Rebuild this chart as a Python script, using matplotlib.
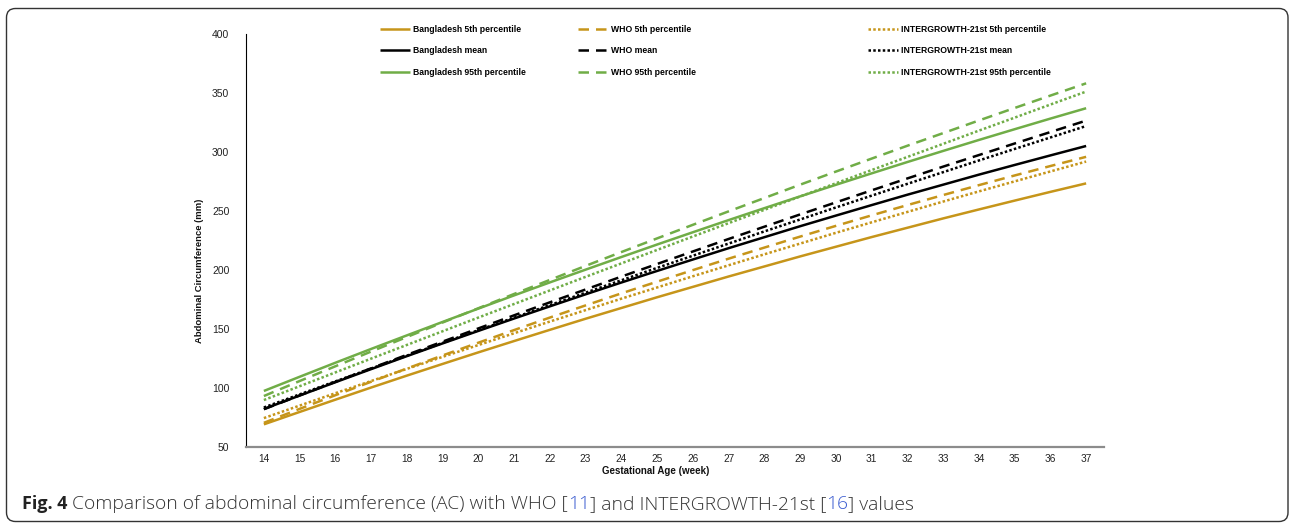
import matplotlib
matplotlib.use("Agg")
import matplotlib.pyplot as plt
from matplotlib.patches import FancyBboxPatch
from matplotlib.transforms import IdentityTransform

# ---------------------------------
# Datos
# ---------------------------------

semanas = list(range(14, 38))

bd_p5 = [69.2, 79.7, 90.1, 100.4, 110.5, 120.4, 130.2, 139.8, 149.3, 158.7, 167.8, 176.9,
         185.7, 194.5, 203.0, 211.5, 219.7, 227.9, 235.8, 243.7, 251.3, 258.8, 266.2, 273.4]
bd_media = [82.2, 93.6, 104.9, 116.0, 127.0, 137.8, 148.4, 158.9, 169.2, 179.4, 189.4, 199.2,
            208.9, 218.5, 227.8, 237.1, 246.1, 255.0, 263.8, 272.3, 280.8, 289.0, 297.1, 305.1]
bd_p95 = [97.5, 109.5, 121.4, 133.1, 144.6, 156.0, 167.3, 178.5, 189.5, 200.3, 211.0, 221.6,
          232.0, 242.3, 252.4, 262.4, 272.2, 281.9, 291.5, 300.9, 310.2, 319.3, 328.3, 337.1]

who_p5 = [70.5, 82.3, 93.9, 105.3, 116.5, 127.6, 138.4, 149.1, 159.7, 170.0, 180.2, 190.1,
          199.9, 209.6, 219.0, 228.3, 237.4, 246.3, 255.0, 263.5, 271.9, 280.1, 288.1, 295.9]
who_media = [82.0, 93.7, 105.2, 116.7, 128.1, 139.3, 150.5, 161.6, 172.6, 183.5, 194.4, 205.1,
             215.7, 226.3, 236.7, 247.1, 257.3, 267.5, 277.6, 287.6, 297.4, 307.2, 316.9, 326.6]
who_p95 = [93.2, 105.9, 118.4, 130.9, 143.2, 155.5, 167.6, 179.7, 191.6, 203.5, 215.2, 226.8,
           238.3, 249.7, 261.0, 272.3, 283.4, 294.4, 305.3, 316.0, 326.7, 337.3, 347.8, 358.2]

ig_p5 = [74.5, 85.1, 95.6, 105.9, 116.2, 126.4, 136.4, 146.4, 156.3, 166.0, 175.7, 185.2,
         194.7, 204.0, 213.3, 222.4, 231.5, 240.4, 249.2, 258.0, 266.6, 275.1, 283.5, 291.9]
ig_media = [83.5, 94.6, 105.6, 116.5, 127.4, 138.2, 149.0, 159.6, 170.3, 180.8, 191.3, 201.8,
            212.1, 222.4, 232.7, 242.8, 253.0, 263.0, 273.0, 282.9, 292.8, 302.6, 312.3, 322.0]
ig_p95 = [89.8, 101.5, 113.2, 124.9, 136.5, 148.1, 159.7, 171.2, 182.7, 194.2, 205.6, 217.0,
          228.4, 239.7, 251.0, 262.3, 273.5, 284.7, 295.8, 306.9, 318.1, 329.1, 340.2, 351.2]

etiquetas_bd = ['Bangladesh 5th percentile', 'Bangladesh mean', 'Bangladesh 95th percentile']
etiquetas_who = ['WHO 5th percentile', 'WHO mean', 'WHO 95th percentile']
etiquetas_ig = ['INTERGROWTH-21st 5th percentile', 'INTERGROWTH-21st mean',
                'INTERGROWTH-21st 95th percentile']

# ---------------------------------
# Estilos
# ---------------------------------

oro = '#C6951A'
verde = '#70AD47'
negro = '#000000'
colores = [oro, negro, verde]

lw = 1.8
guion = (4.2, 2.8)
punto = (1.0, 0.9)

fuente = ['Liberation Sans', 'DejaVu Sans']
W, H = 1289, 523

fig = plt.figure(figsize=(W / 100, H / 100), dpi=100)
ax = fig.add_axes([246 / W, 1 - 447 / H, (1104 - 246) / W, (447 - 34) / H])

grupos = [
    ([bd_p5, bd_media, bd_p95], etiquetas_bd, None),
    ([who_p5, who_media, who_p95], etiquetas_who, guion),
    ([ig_p5, ig_media, ig_p95], etiquetas_ig, punto),
]

manejadores = []
for series, etiquetas, estilo in grupos:
    hs = []
    for serie, etiqueta, color in zip(series, etiquetas, colores):
        ln, = ax.plot(semanas, serie, color=color, lw=lw, label=etiqueta,
                      solid_capstyle='butt', dash_capstyle='butt')
        if estilo is not None:
            ln.set_dashes(estilo)
        hs.append(ln)
    manejadores.append(hs)

# ejes
ax.set_xlim(13.5, 37.5)
ax.set_ylim(50, 400)
ax.set_xticks(semanas)
ax.set_yticks(range(50, 401, 50))
ax.spines['top'].set_visible(False)
ax.spines['right'].set_visible(False)
ax.spines['bottom'].set_color('#8C8C8C')
ax.spines['bottom'].set_linewidth(1.6)
ax.spines['left'].set_color('#000000')
ax.spines['left'].set_linewidth(0.8)
ax.tick_params(axis='x', length=0, pad=5, labelsize=7.3, labelcolor='#222222')
ax.tick_params(axis='y', length=0, pad=12, labelsize=7.5, labelcolor='#222222')
for lab in ax.get_xticklabels() + ax.get_yticklabels():
    lab.set_family(fuente)

# etiquetas
fig.text(200 / W, 1 - 271 / H, 'Abdominal Circumference (mm)', rotation=90,
         ha='center', va='center', fontsize=6.8, fontweight='bold', family=fuente,
         color='#111111')
fig.text(656 / W, 1 - 471 / H, 'Gestational Age (week)', ha='center', va='center',
         fontsize=7.0, fontweight='bold', family=fuente, color='#111111')

# leyendas (tres columnas)
xs_leyenda = [380, 578, 868]
for hs, x0 in zip(manejadores, xs_leyenda):
    fig.legend(handles=hs, loc='upper left', bbox_to_anchor=(x0 / W, 1 - 25 / H),
               frameon=False, prop={'family': fuente, 'weight': 'bold', 'size': 6.2},
               handlelength=3.5, handletextpad=0.3, labelspacing=1.45,
               borderpad=0, borderaxespad=0)

# marco redondeado
marco = FancyBboxPatch((6.5, 1.5), 1281.5, 513, boxstyle='round,pad=0,rounding_size=9',
                       transform=IdentityTransform(), fill=False, edgecolor='#333333',
                       lw=1.0, figure=fig)
fig.patches.append(marco)

# pie de figura
renderer = fig.canvas.get_renderer()
trozos = [
    ('Fig. 4', 'bold', '#222222', 13.0),
    (' Comparison of abdominal circumference (AC) with WHO [', 'light', '#333333', 13.9),
    ('11', 'light', '#3A5BD0', 13.9),
    ('] and INTERGROWTH-21st [', 'light', '#333333', 13.9),
    ('16', 'light', '#3A5BD0', 13.9),
    ('] values', 'light', '#333333', 13.9),
]
x = 22
for texto, peso, color, tam in trozos:
    t = fig.text(x / W, 1 - 509 / H, texto, ha='left', va='baseline', fontsize=tam,
                 fontweight=peso, color=color, family=['Open Sans', 'DejaVu Sans'])
    ext = t.get_window_extent(renderer)
    x = ext.x1

fig.savefig('out.png', dpi=100)
